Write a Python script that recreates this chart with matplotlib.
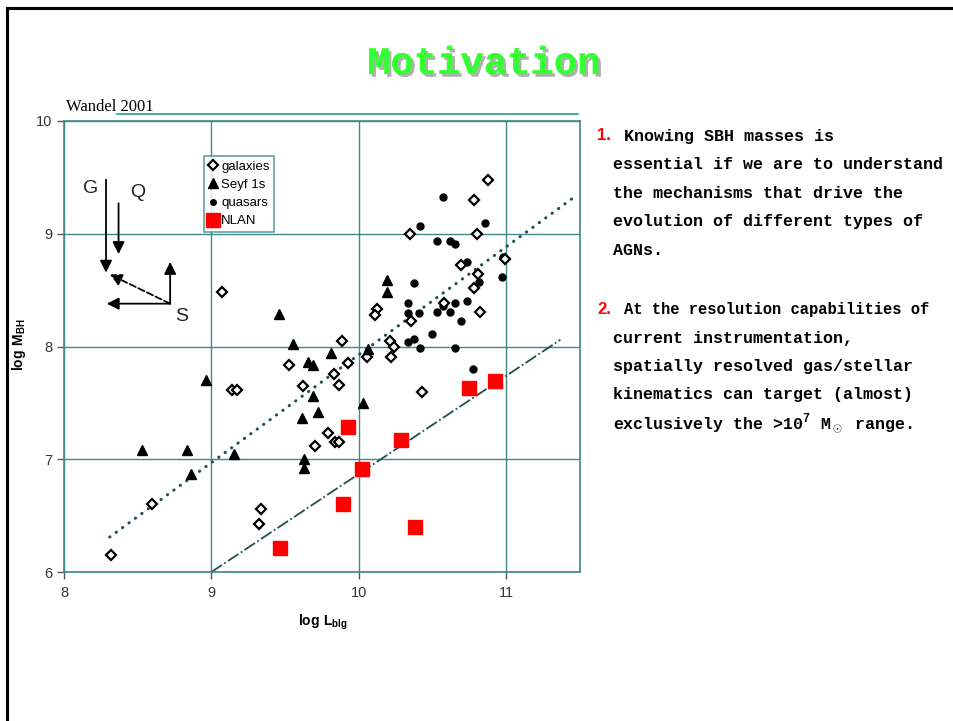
import matplotlib
matplotlib.use("Agg")
import matplotlib.pyplot as plt
from matplotlib.lines import Line2D
import matplotlib.patheffects as pe

plt.rcParams['mathtext.fontset'] = 'custom'
plt.rcParams['mathtext.rm'] = 'Liberation Mono:bold'
plt.rcParams['mathtext.bf'] = 'Liberation Sans:bold'

# ---------------- data ----------------
gal_x = [10.876, 10.783, 10.349, 10.804, 10.695, 10.808, 10.99, 10.783, 10.58, 10.82,
         10.356, 10.12, 10.11, 9.885, 10.21, 10.24, 10.218, 10.055, 9.924, 9.83,
         9.862, 9.62, 9.526, 10.428, 9.14, 9.176, 9.79, 9.70, 9.84, 9.862,
         9.337, 9.322, 8.595, 8.317, 9.075]
gal_y = [9.475, 9.30, 9.00, 9.00, 8.72, 8.64, 8.78, 8.52, 8.39, 8.31,
         8.23, 8.33, 8.28, 8.045, 8.045, 8.00, 7.907, 7.907, 7.85, 7.76,
         7.66, 7.65, 7.836, 7.596, 7.61, 7.616, 7.234, 7.119, 7.154, 7.154,
         6.56, 6.426, 6.60, 6.154, 8.48]

sey_x = [10.188, 10.188, 10.06, 9.81, 9.55, 9.658, 9.686, 9.69, 8.964, 9.722,
         10.028, 9.611, 8.527, 8.833, 9.15, 9.631, 9.631, 8.862, 9.455]
sey_y = [8.59, 8.484, 7.98, 7.94, 8.025, 7.865, 7.836, 7.557, 7.70, 7.42,
         7.498, 7.365, 7.083, 7.083, 7.045, 7.00, 6.918, 6.87, 8.29]

qso_x = [10.573, 10.415, 10.853, 10.532, 10.616, 10.65, 10.734, 10.976, 10.97, 10.813,
         10.374, 10.33, 10.333, 10.41, 10.532, 10.616, 10.573, 10.65, 10.734, 10.693,
         10.494, 10.335, 10.371, 10.415, 10.652, 10.772]
qso_y = [9.325, 9.07, 9.093, 8.94, 8.94, 8.91, 8.747, 8.795, 8.617, 8.573,
         8.56, 8.39, 8.30, 8.30, 8.303, 8.303, 8.362, 8.39, 8.407, 8.226,
         8.108, 8.037, 8.066, 7.99, 7.99, 7.797]

nlan_x = [9.462, 9.89, 9.928, 10.023, 10.288, 10.383, 10.745, 10.924]
nlan_y = [6.216, 6.60, 7.29, 6.915, 7.17, 6.40, 7.628, 7.694]

fit_dotted_x = [8.31, 11.476]
fit_dotted_y = [6.31, 9.34]
fit_dashdot_x = [9.0, 11.367]
fit_dashdot_y = [6.0, 8.06]

x_ticks = [8, 9, 10, 11]
y_ticks = [6, 7, 8, 9, 10]

legend_labels = ["galaxies", "Seyf 1s", "quasars", "NLAN"]

bullet1 = ["Knowing SBH masses is",
           "essential if we are to understand",
           "the mechanisms that drive the",
           "evolution of different types of",
           "AGNs."]
bullet2 = ["At the resolution capabilities of",
           "current instrumentation,",
           "spatially resolved gas/stellar",
           "kinematics can target (almost)",
           r"exclusively the >10$^7$ M$_\odot$ range."]

# ---------------- figure ----------------
W, H = 954, 721
fig = plt.figure(figsize=(W / 100, H / 100), dpi=100)
fig.patch.set_facecolor('white')

def fx(px):
    return px / W

def fy(py):
    return 1 - py / H

teal = '#3d8888'

# slide border (top and left)
fig.add_artist(Line2D([fx(7), fx(954)], [fy(8), fy(8)], color='black', lw=2.2))
fig.add_artist(Line2D([fx(7), fx(7)], [fy(8), fy(721)], color='black', lw=2.2))

# title with shadow
fig.text(fx(484), fy(64), "Motivation", family='Liberation Mono', weight='bold',
         fontsize=28, color='#33ff33', ha='center', va='center',
         path_effects=[pe.withSimplePatchShadow(offset=(2, -2), shadow_rgbFace='#b0b0b0', alpha=1.0),
                       pe.Normal()])

# Wandel 2001 label and line
fig.text(fx(66), fy(111), "Wandel 2001", family='Liberation Serif', fontsize=12,
         color='black', ha='left', va='baseline')
fig.add_artist(Line2D([fx(117), fx(578)], [fy(114), fy(114)], color='#2a9a9a', lw=1.2))

# axes
ax = fig.add_axes([fx(64), fy(572), fx(580) - fx(64), fy(121) - fy(572)])
ax.set_xlim(8, 11.5)
ax.set_ylim(6, 10)
ax.set_xticks(x_ticks)
ax.set_yticks(y_ticks)
ax.grid(True, color=teal, lw=1.0)
ax.set_axisbelow(True)
for s in ax.spines.values():
    s.set_color(teal)
    s.set_linewidth(1.2)
ax.tick_params(axis='both', colors='#555555', labelcolor='#333333', length=5, width=1,
               labelsize=10.5)
ax.tick_params(axis='x', pad=5)
for lab in ax.get_xticklabels() + ax.get_yticklabels():
    lab.set_family('Liberation Sans')

ax.set_ylabel(r'$\mathbf{log\ M_{BH}}$', fontsize=10, labelpad=8)
ax.set_xlabel(r'$\mathbf{log\ L_{blg}}$', fontsize=10, labelpad=10)
ax.xaxis.set_label_coords((323 - 64) / (580 - 64), -(613 - 572) / (572 - 121))
ax.yaxis.set_label_coords(-(64 - 28) / (580 - 64), (572 - 345) / (572 - 121))

# fit lines
ax.plot(fit_dotted_x, fit_dotted_y, color='#1f5050', lw=2.2, ls=(0, (0.1, 2.5)),
        dash_capstyle='round', zorder=2)
ax.plot(fit_dashdot_x, fit_dashdot_y, color='#1f5050', lw=1.3, ls=(0, (7, 1.5, 1, 1.5)),
        zorder=2)

# data points
ax.plot(gal_x, gal_y, ls='none', marker='D', ms=5, mfc='white', mec='black', mew=1.6, zorder=4)
ax.plot(sey_x, sey_y, ls='none', marker='^', ms=7, mfc='black', mec='black', zorder=4)
ax.plot(qso_x, qso_y, ls='none', marker='o', ms=5, mfc='black', mec='black', zorder=3)
ax.plot(nlan_x, nlan_y, ls='none', marker='s', ms=10.5, mfc='#ff0000', mec='#ff0000', zorder=5)

# G / Q / S arrows
aprops = dict(arrowstyle='-|>', color='black', lw=1.3, mutation_scale=18, shrinkA=0, shrinkB=0)
ax.annotate('', xy=(8.285, 8.655), xytext=(8.285, 9.48), arrowprops=aprops)
ax.annotate('', xy=(8.37, 8.82), xytext=(8.37, 9.27), arrowprops=aprops)
ax.annotate('', xy=(8.72, 8.75), xytext=(8.72, 8.38), arrowprops=aprops)
ax.annotate('', xy=(8.29, 8.38), xytext=(8.72, 8.38), arrowprops=aprops)
ax.annotate('', xy=(8.31, 8.64), xytext=(8.72, 8.38),
            arrowprops=dict(aprops, linestyle='--'))
for txt, (tx, ty) in zip(["G", "Q", "S"], [(8.18, 9.40), (8.50, 9.37), (8.80, 8.27)]):
    ax.text(tx, ty, txt, family='Liberation Sans', fontsize=14, color='#222222',
            ha='center', va='center')

# legend
handles = [
    Line2D([], [], ls='none', marker='D', ms=5, mfc='white', mec='black', mew=1.6),
    Line2D([], [], ls='none', marker='^', ms=7, mfc='black', mec='black'),
    Line2D([], [], ls='none', marker='o', ms=4, mfc='black', mec='black'),
    Line2D([], [], ls='none', marker='s', ms=10.5, mfc='#ff0000', mec='#ff0000'),
]
leg = fig.legend(handles, legend_labels, loc='upper left', bbox_to_anchor=(fx(204), fy(156)),
                 frameon=True, fancybox=False, edgecolor=teal, handlelength=0.6,
                 handletextpad=0.35, borderpad=0.35, labelspacing=0.45,
                 prop={'family': 'Liberation Sans', 'size': 9.5}, borderaxespad=0)
leg.get_frame().set_linewidth(1.2)

# right-hand bullet text
def bullet(num, lines, y0, sizes, step=28.5):
    fig.text(fx(597), fy(y0), num, family='Liberation Sans', weight='bold', fontsize=12,
             color='#ff0000', ha='left', va='center')
    for i, line in enumerate(lines):
        x0 = 624 if i == 0 else 613
        fig.text(fx(x0), fy(y0 + i * step), line, family='Liberation Mono', weight='bold',
                 fontsize=sizes[i], color='black', ha='left', va='center')

bullet("1.", bullet1, 136, [12, 12, 12, 12, 12])
bullet("2.", bullet2, 309.5, [11.2, 12, 12, 12, 12])

fig.savefig("out.png", dpi=100)
